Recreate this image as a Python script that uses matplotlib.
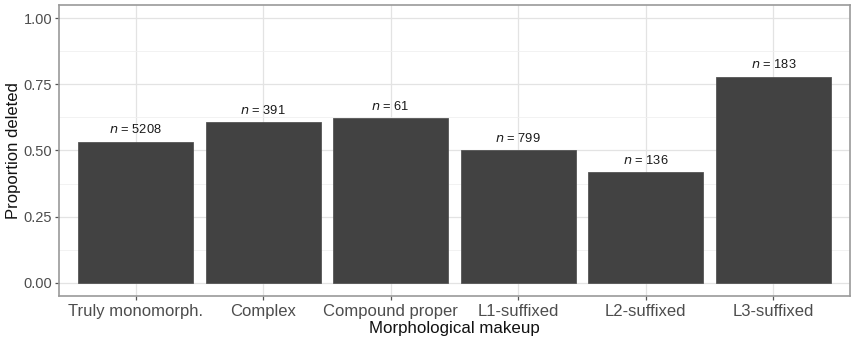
import matplotlib.pyplot as plt
import numpy as np

categories = ['Truly monomorph.', 'Complex', 'Compound proper',
              'L1-suffixed', 'L2-suffixed', 'L3-suffixed']
proportions = [0.533, 0.606, 0.621, 0.500, 0.418, 0.779]
counts = [5208, 391, 61, 799, 136, 183]

plt.rcParams['font.family'] = ['Liberation Sans', 'DejaVu Sans']

fig = plt.figure(figsize=(8.52, 3.40), dpi=100)
ax = fig.add_axes([59 / 852, 44 / 340, 791 / 852, 291 / 340])

x = np.arange(1, len(categories) + 1)
ax.bar(x, proportions, width=0.9, color='#424242', edgecolor='#555555',
       linewidth=0.6, zorder=3)

for xi, p, n in zip(x, proportions, counts):
    ax.annotate(r'$n$ = ' + str(n), (xi, p), xytext=(0, 4),
                textcoords='offset points', ha='center', va='bottom',
                fontsize=9.3, color='#1a1a1a', zorder=4)

ax.set_xlim(0.4, 6.6)
ax.set_ylim(-0.05, 1.05)
ax.set_xticks(x)
ax.set_xticklabels(categories)
ax.set_yticks([0, 0.25, 0.5, 0.75, 1.0])
ax.set_yticklabels(['0.00', '0.25', '0.50', '0.75', '1.00'])
ax.set_yticks([0.125, 0.375, 0.625, 0.875], minor=True)

ax.grid(True, which='major', color='#e3e3e3', linewidth=0.9, zorder=0)
ax.grid(True, which='minor', axis='y', color='#f0f0f0', linewidth=0.6, zorder=0)
ax.set_axisbelow(True)

for s in ax.spines.values():
    s.set_color('#9a9a9a')
    s.set_linewidth(1.2)

ax.tick_params(axis='both', which='major', labelcolor='#4d4d4d',
               color='#555555', length=3, width=0.9, pad=2)
ax.tick_params(axis='x', labelsize=12, pad=3)
ax.tick_params(axis='y', labelsize=10.5)
ax.tick_params(axis='y', which='minor', length=0)

ax.set_xlabel('Morphological makeup', fontsize=12.2, color='#111111', labelpad=1.5)
ax.set_ylabel('Proportion deleted', fontsize=12, color='#111111', labelpad=2)

fig.savefig('out.png', dpi=100)
